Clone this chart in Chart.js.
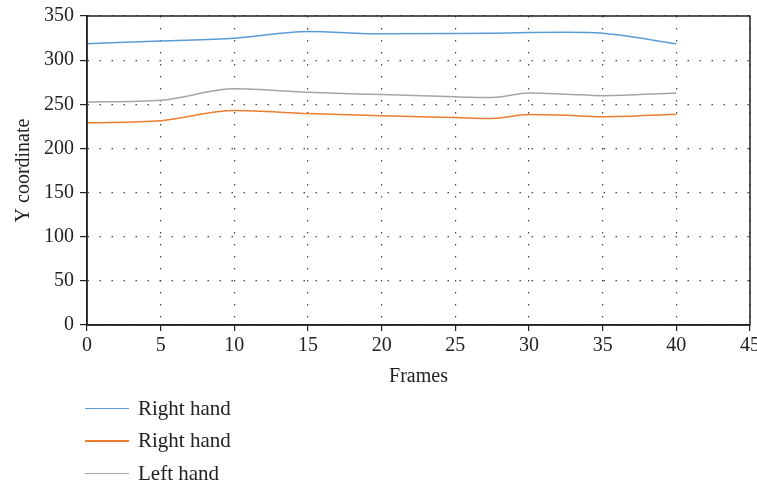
<!DOCTYPE html>
<html>
<head>
<meta charset="utf-8">
<script src="https://cdn.jsdelivr.net/npm/chart.js@4.4.0/dist/chart.umd.min.js"></script>
<style>
    body { margin: 0; background: #fff; }
    #wrap { position: relative; width: 757px; height: 485px; overflow: hidden; }
    #box { position: absolute; left: 0; top: -2px; width: 763px; height: 395px; }
    #legend { position: absolute; left: 85px; top: 392px; font-family: "Liberation Serif", serif; font-size: 21px; color: #222; }
    .item { height: 32.5px; display: flex; align-items: center; }
    .swatch { width: 44px; height: 1.5px; margin-right: 9px; }
</style>
</head>
<body>
<div id="wrap">
    <div id="box"><canvas id="chart"></canvas></div>
    <div id="legend"></div>
</div>
<script>
// frame positions where values were read
const frames = [0, 5, 10, 15, 20, 25, 27.5, 30, 32.5, 35, 40];
const rightHandA = [318.6, 321.7, 324.7, 332.5, 329.8, 330.2, 330.6, 331.2, 331.5, 330.4, 318.6];
const rightHandB = [229, 231.4, 243, 239.5, 237, 235, 234, 238.5, 237.5, 236, 238.8];
const leftHand = [252.5, 254.5, 267.5, 263.5, 261, 258.5, 257.8, 262.8, 261.5, 259.8, 262.8];
const seriesNames = ['Right hand', 'Right hand', 'Left hand'];
const seriesColors = ['#5b9bd5', '#ed7d31', '#a5a5a5'];

const font = "'Liberation Serif', serif";

function toPoints(values) {
    return frames.map((f, i) => ({ x: f, y: values[i] }));
}

// black frame around the plot area
const frameBox = {
    id: 'frameBox',
    afterDraw(chart) {
        const a = chart.chartArea;
        const ctx = chart.ctx;
        ctx.save();
        ctx.strokeStyle = '#222';
        ctx.lineWidth = 1.5;
        ctx.strokeRect(a.left, a.top, a.right - a.left, a.bottom - a.top);
        ctx.restore();
    }
};

const datasets = [rightHandA, rightHandB, leftHand].map((vals, i) => ({
    label: seriesNames[i],
    data: toPoints(vals),
    borderColor: seriesColors[i],
    backgroundColor: seriesColors[i],
    borderWidth: 1.5,
    pointRadius: 0,
    showLine: true,
    cubicInterpolationMode: 'monotone'
}));

const ctx = document.getElementById('chart').getContext('2d');
window.mainChart = new Chart(ctx, {
    type: 'scatter',
    data: { datasets: datasets },
    options: {
        responsive: true,
        maintainAspectRatio: false,
        animation: false,
        layout: { padding: { top: 4, right: 0, left: 8, bottom: 0 } },
        plugins: {
            legend: { display: false },
            tooltip: { enabled: false }
        },
        scales: {
            x: {
                type: 'linear',
                min: 0,
                max: 45,
                ticks: { stepSize: 5, color: '#222', font: { family: font, size: 20 }, padding: 3 },
                grid: { color: '#444', lineWidth: 1.2, tickLength: 6, tickColor: '#222', tickBorderDash: [] },
                border: { color: '#222', width: 1.5, dash: [1.5, 10.5] },
                title: { display: true, text: 'Frames', color: '#222', font: { family: font, size: 20 }, padding: { top: 4 } }
            },
            y: {
                min: 0,
                max: 350,
                ticks: { stepSize: 50, color: '#222', font: { family: font, size: 20 }, padding: 6 },
                grid: { color: '#444', lineWidth: 1.2, tickLength: 7, tickColor: '#222', tickBorderDash: [] },
                border: { color: '#222', width: 1.5, dash: [1.5, 10.5] },
                title: { display: true, text: 'Y coordinate', color: '#222', font: { family: font, size: 20 }, padding: { bottom: 2 } }
            }
        }
    },
    plugins: [frameBox]
});

// legend as a vertical list below the chart
document.getElementById('legend').innerHTML = seriesNames.map((name, i) => `
    <div class="item"><span class="swatch" style="background:${seriesColors[i]}"></span>${name}</div>
`).join('');
</script>
</body>
</html>
